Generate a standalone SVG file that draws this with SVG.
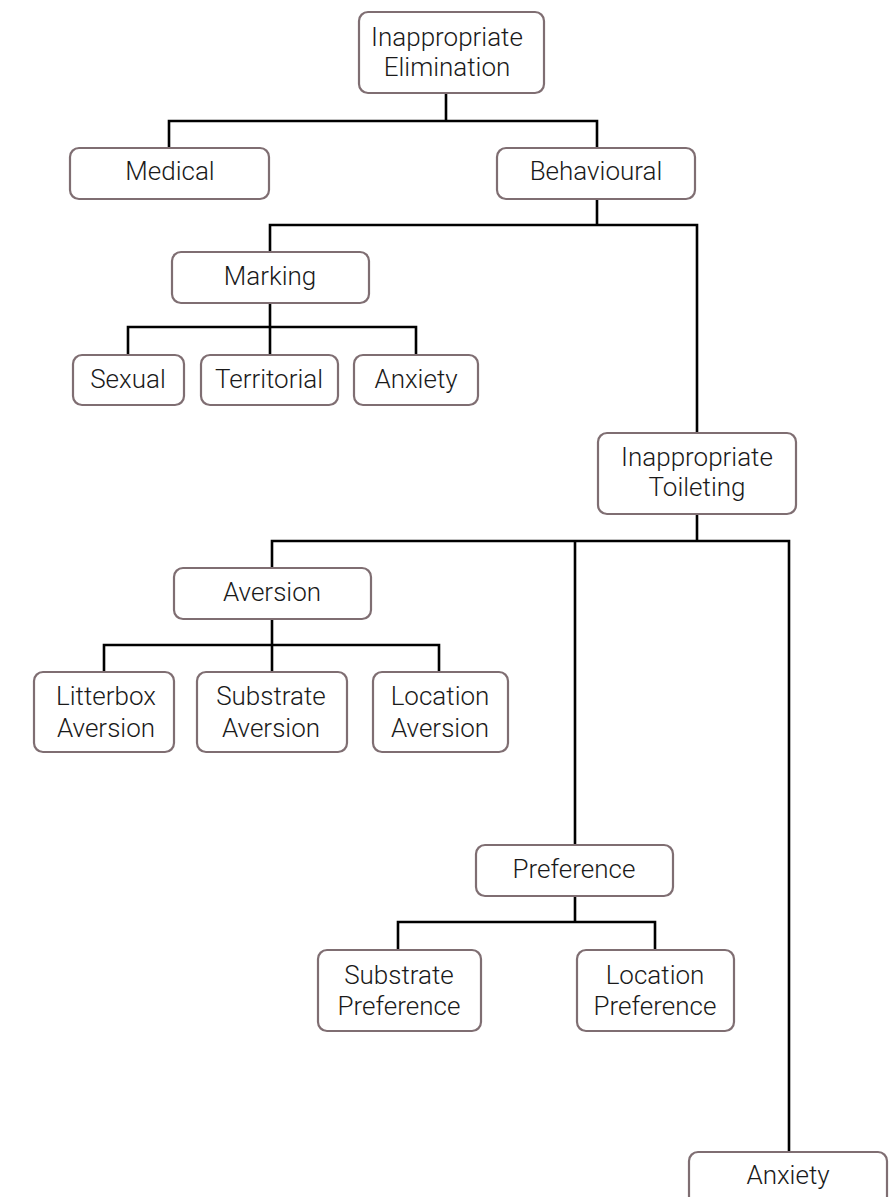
<svg xmlns="http://www.w3.org/2000/svg" width="890" height="1197" viewBox="0 0 890 1197">
<style>
.box{fill:#ffffff;stroke:#7f6e72;stroke-width:2.2}
.lbl{font-family:Roboto,"Liberation Sans",sans-serif;font-weight:300;font-size:26px;fill:#1a1a1a;text-anchor:middle}
.ln{fill:none;stroke:#000000;stroke-width:2.6;stroke-linejoin:miter}
</style>
<rect width="890" height="1197" fill="#ffffff"/>
<g id="connectors">
<path class="ln" d="M446 93 V121 M169 148 V121 H597 V148"/>
<path class="ln" d="M597 199 V225 M270 252 V225 H697 V433"/>
<path class="ln" d="M270 303 V327 M128 355 V327 H416 V355 M270 327 V355"/>
<path class="ln" d="M697 514 V541 M272 568 V541 H789 V1152 M575 541 V845"/>
<path class="ln" d="M272 619 V645 M104 672 V645 H439 V672 M272 645 V672"/>
<path class="ln" d="M575 896 V922 M398 950 V922 H655 V950"/>
</g>
<g id="n-elimination"><rect class="box" x="359" y="12" width="185" height="81" rx="9"/><text class="lbl" x="447" y="46">Inappropriate</text><text class="lbl" x="447" y="76">Elimination</text></g>
<g id="n-medical"><rect class="box" x="70" y="148" width="199" height="51" rx="9"/><text class="lbl" x="170" y="180">Medical</text></g>
<g id="n-behavioural"><rect class="box" x="497" y="148" width="198" height="51" rx="9"/><text class="lbl" x="596" y="180">Behavioural</text></g>
<g id="n-marking"><rect class="box" x="172" y="252" width="197" height="51" rx="9"/><text class="lbl" x="270" y="285">Marking</text></g>
<g id="n-sexual"><rect class="box" x="73" y="355" width="111" height="50" rx="9"/><text class="lbl" x="128" y="388">Sexual</text></g>
<g id="n-territorial"><rect class="box" x="201" y="355" width="137" height="50" rx="9"/><text class="lbl" x="269" y="388">Territorial</text></g>
<g id="n-anxiety1"><rect class="box" x="354" y="355" width="124" height="50" rx="9"/><text class="lbl" x="416" y="388">Anxiety</text></g>
<g id="n-toileting"><rect class="box" x="598" y="433" width="198" height="81" rx="9"/><text class="lbl" x="697" y="466">Inappropriate</text><text class="lbl" x="697" y="496">Toileting</text></g>
<g id="n-aversion"><rect class="box" x="174" y="568" width="197" height="51" rx="9"/><text class="lbl" x="272" y="601">Aversion</text></g>
<g id="n-litterbox"><rect class="box" x="34" y="672" width="140" height="80" rx="9"/><text class="lbl" x="106" y="705">Litterbox</text><text class="lbl" x="106" y="737">Aversion</text></g>
<g id="n-substrate-av"><rect class="box" x="197" y="672" width="150" height="80" rx="9"/><text class="lbl" x="271" y="705">Substrate</text><text class="lbl" x="271" y="737">Aversion</text></g>
<g id="n-location-av"><rect class="box" x="373" y="672" width="135" height="80" rx="9"/><text class="lbl" x="440" y="705">Location</text><text class="lbl" x="440" y="737">Aversion</text></g>
<g id="n-preference"><rect class="box" x="476" y="845" width="197" height="51" rx="9"/><text class="lbl" x="574" y="878">Preference</text></g>
<g id="n-substrate-pref"><rect class="box" x="318" y="950" width="163" height="81" rx="9"/><text class="lbl" x="399" y="984">Substrate</text><text class="lbl" x="399" y="1015">Preference</text></g>
<g id="n-location-pref"><rect class="box" x="577" y="950" width="157" height="81" rx="9"/><text class="lbl" x="655" y="984">Location</text><text class="lbl" x="655" y="1015">Preference</text></g>
<g id="n-anxiety2"><rect class="box" x="689" y="1152" width="198" height="56" rx="9"/><text class="lbl" x="788" y="1184">Anxiety</text></g>
</svg>
